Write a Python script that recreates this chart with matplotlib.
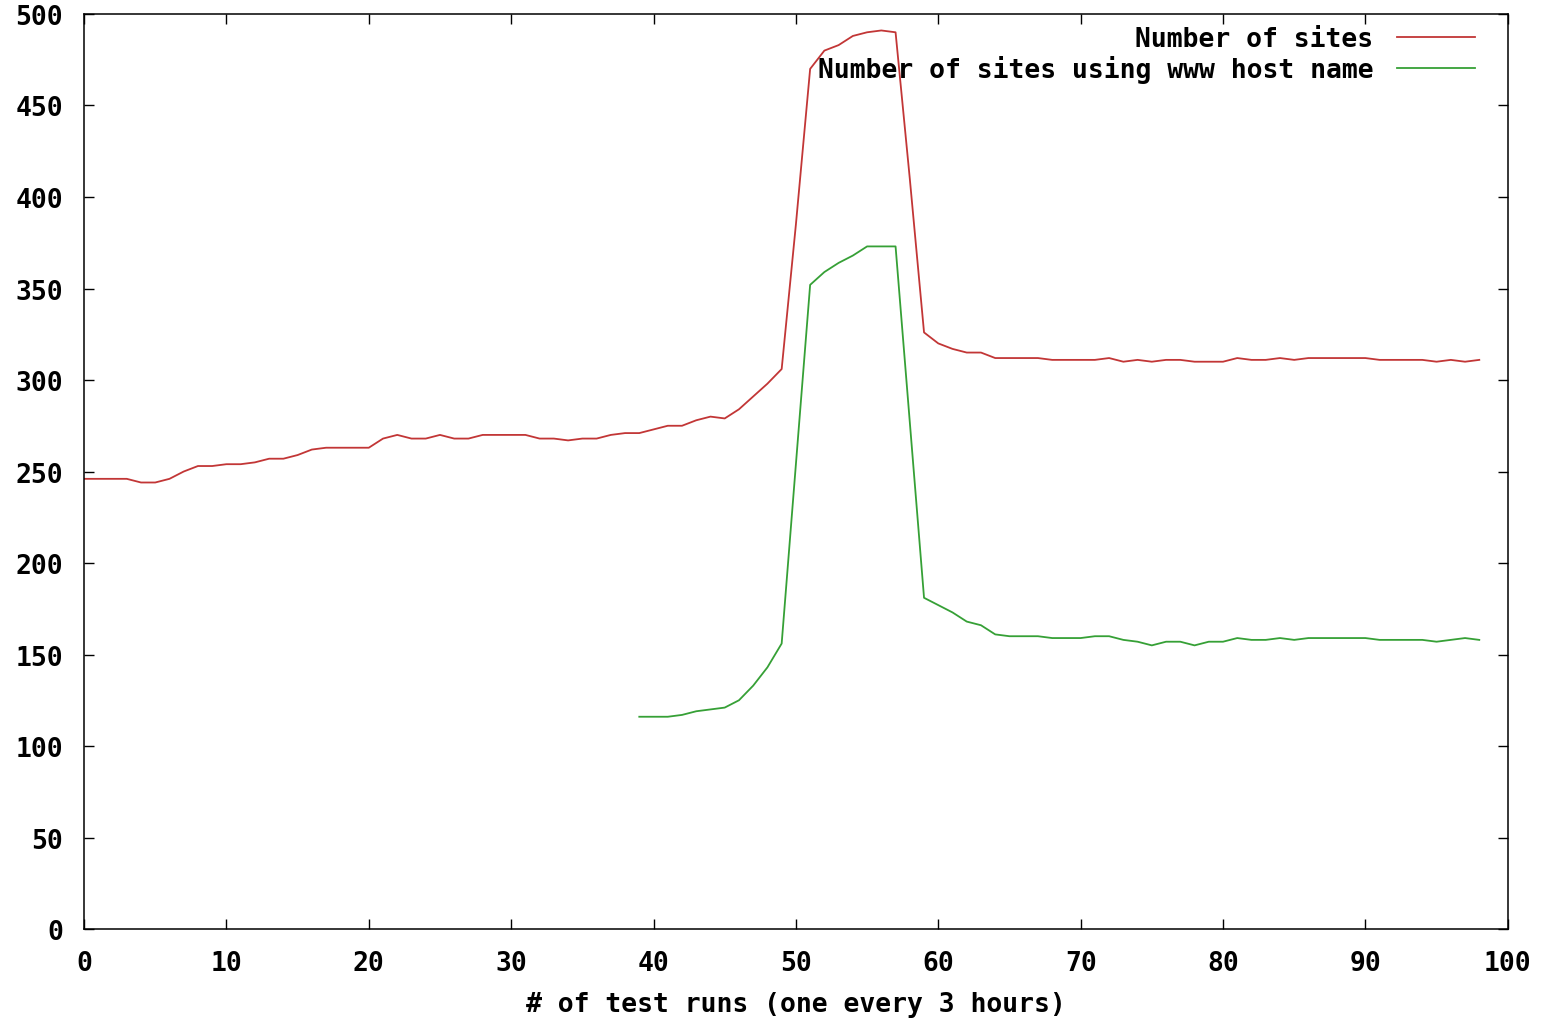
import numpy as np
import matplotlib
matplotlib.use("Agg")
import matplotlib.pyplot as plt

# test run index (one every 3 hours)
runs = np.arange(0, 99)

# Number of sites, runs 0..98
sites = [246, 246, 246, 246, 244, 244, 246, 250, 253, 253,
         254, 254, 255, 257, 257, 259, 262, 263, 263, 263,
         263, 268, 270, 268, 268, 270, 268, 268, 270, 270,
         270, 270, 268, 268, 267, 268, 268, 270, 271, 271,
         273, 275, 275, 278, 280, 279, 284, 291, 298, 306,
         385, 470, 480, 483, 488, 490, 491, 490, 410, 326,
         320, 317, 315, 315, 312, 312, 312, 312, 311, 311,
         311, 311, 312, 310, 311, 310, 311, 311, 310, 310,
         310, 312, 311, 311, 312, 311, 312, 312, 312, 312,
         312, 311, 311, 311, 311, 310, 311, 310, 311]

# Number of sites using www host name, runs 39..98
www_runs = np.arange(39, 99)
www_sites = [116, 116, 116, 117, 119, 120, 121, 125, 133, 143,
             156, 254, 352, 359, 364, 368, 373, 373, 373, 277,
             181, 177, 173, 168, 166, 161, 160, 160, 160, 159,
             159, 159, 160, 160, 158, 157, 155, 157, 157, 155,
             157, 157, 159, 158, 158, 159, 158, 159, 159, 159,
             159, 159, 158, 158, 158, 158, 157, 158, 159, 158]

plt.rcParams['font.family'] = ['DejaVu Sans Mono']
plt.rcParams['font.weight'] = 'bold'
fs = 19

fig = plt.figure(figsize=(15.48, 10.2), dpi=100)
ax = fig.add_axes([0.0543, 0.0882, 0.9197, 0.8971])

ax.plot(runs, sites, color='#c23636', lw=1.3, label='Number of sites')
ax.plot(www_runs, www_sites, color='#36a036', lw=1.3,
        label='Number of sites using www host name')

ax.set_xlim(0, 100)
ax.set_ylim(0, 500)
ax.set_xticks(np.arange(0, 101, 10))
ax.set_yticks(np.arange(0, 501, 50))
ax.tick_params(direction='in', length=7, width=1, top=True, right=True,
               labelsize=fs, pad=15)
ax.tick_params(axis='y', pad=15)
for lab in ax.get_xticklabels() + ax.get_yticklabels():
    lab.set_fontweight('bold')
for s in ax.spines.values():
    s.set_linewidth(1.1)

ax.set_xlabel('# of test runs (one every 3 hours)', fontsize=fs,
              fontweight='bold', labelpad=11)

leg = ax.legend(loc='upper right', frameon=False, markerfirst=False,
                alignment='right', fontsize=fs, handlelength=2.95,
                handletextpad=0.9, labelspacing=0.12, borderpad=0,
                borderaxespad=0, bbox_to_anchor=(0.9768, 0.987))
for t in leg.get_texts():
    t.set_fontweight('bold')

fig.savefig('out.png', dpi=100)
